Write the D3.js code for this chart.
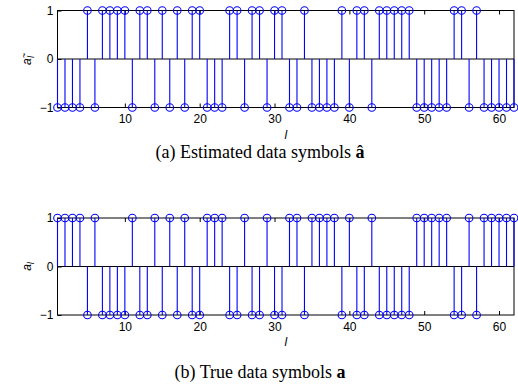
<!DOCTYPE html>
<html>
<head>
<meta charset="utf-8">
<script src="https://cdn.jsdelivr.net/npm/d3@7"></script>
<style>
  body { margin: 0; background: #fff; }
  svg { display: block; }
  .tick text { font-family: "Liberation Sans", Arial, sans-serif; font-size: 12px; fill: #000; }
  .tick line { stroke: #000; }
  .caption { font-family: "Liberation Serif", "Times New Roman", serif; font-size: 18px; fill: #000; }
</style>
</head>
<body>
<svg id="chart" width="518" height="387"></svg>
<script>
// symbol index l = 1..62
const symbolIndex = d3.range(1, 63);

// estimated data symbols (top panel)
const estimatedSymbols = [
  -1, -1, -1, -1,  1, -1,  1,  1,  1,  1,
  -1,  1,  1, -1,  1, -1,  1, -1,  1,  1,
  -1, -1, -1,  1,  1, -1,  1,  1, -1,  1,
   1, -1, -1,  1, -1, -1, -1, -1,  1, -1,
   1,  1, -1,  1,  1,  1,  1,  1, -1, -1,
  -1, -1, -1,  1,  1, -1,  1, -1, -1, -1,
  -1, -1
];

// true data symbols (bottom panel)
const trueSymbols = [
   1,  1,  1,  1, -1,  1, -1, -1, -1, -1,
   1, -1, -1,  1, -1,  1, -1,  1, -1, -1,
   1,  1,  1, -1, -1,  1, -1, -1,  1, -1,
  -1,  1,  1, -1,  1,  1,  1,  1, -1,  1,
  -1, -1,  1, -1, -1, -1, -1, -1,  1,  1,
   1,  1,  1, -1, -1,  1, -1,  1,  1,  1,
   1,  1
];

const xTicks = [10, 20, 30, 40, 50, 60];
const yTicks = [-1, 0, 1];

const svg = d3.select("#chart");
const blue = "#0000ff";

const x = d3.scaleLinear().domain([1, 62]).range([57.5, 514]);

function drawPanel(values, top, bottom, yLabel, caption) {
  const y = d3.scaleLinear().domain([-1, 1]).range([bottom, top]);
  const g = svg.append("g");

  // axes box
  g.append("rect")
    .attr("x", x(1)).attr("y", y(1))
    .attr("width", x(62) - x(1)).attr("height", y(-1) - y(1))
    .attr("fill", "none").attr("stroke", "#000").attr("stroke-width", 1);

  const xb = g.append("g")
    .attr("transform", "translate(0," + y(-1) + ")")
    .call(d3.axisBottom(x).tickValues(xTicks).tickSizeInner(-4).tickSizeOuter(0).tickPadding(7));
  xb.select(".domain").remove();

  const xt = g.append("g")
    .attr("transform", "translate(0," + y(1) + ")")
    .call(d3.axisTop(x).tickValues(xTicks).tickSizeInner(-4).tickSizeOuter(0).tickFormat(""));
  xt.select(".domain").remove();

  const yl = g.append("g")
    .attr("transform", "translate(" + x(1) + ",0)")
    .call(d3.axisLeft(y).tickValues(yTicks).tickFormat(d3.format("d"))
      .tickSizeInner(-4).tickSizeOuter(0).tickPadding(4));
  yl.select(".domain").remove();

  // baseline at zero
  g.append("line")
    .attr("x1", x(1)).attr("x2", x(62))
    .attr("y1", y(0)).attr("y2", y(0))
    .attr("stroke", "#000").attr("stroke-width", 1);

  // stems
  g.selectAll(".stem")
    .data(values)
    .enter()
    .append("line")
    .attr("x1", (d, i) => x(symbolIndex[i]))
    .attr("x2", (d, i) => x(symbolIndex[i]))
    .attr("y1", y(0))
    .attr("y2", d => y(d))
    .attr("stroke", blue).attr("stroke-width", 1.1);

  // markers
  g.selectAll(".mark")
    .data(values)
    .enter()
    .append("circle")
    .attr("cx", (d, i) => x(symbolIndex[i]))
    .attr("cy", d => y(d))
    .attr("r", 3.8)
    .attr("fill", "none")
    .attr("stroke", blue).attr("stroke-width", 1.1);

  // x label
  g.append("text")
    .attr("x", (x(1) + x(62)) / 2).attr("y", bottom + 31)
    .attr("text-anchor", "middle")
    .style("font-family", "Liberation Sans, Arial, sans-serif")
    .style("font-size", "12px").style("font-style", "italic")
    .text("l");

  // y label
  const t = g.append("text")
    .attr("transform", "translate(31," + y(0) + ") rotate(-90)")
    .attr("text-anchor", "middle")
    .style("font-family", "Liberation Sans, Arial, sans-serif")
    .style("font-size", "12px").style("font-style", "italic");
  t.append("tspan").text("a");
  if (yLabel === "tilde") {
    t.append("tspan").attr("dy", -4).style("font-size", "9px").text("~");
    t.append("tspan").attr("dx", -5).attr("dy", 7).style("font-size", "9px").text("l");
  } else {
    t.append("tspan").attr("dy", 3).style("font-size", "9px").text("l");
  }

  // caption
  const c = svg.append("text")
    .attr("class", "caption")
    .attr("x", 260).attr("y", caption.y)
    .attr("text-anchor", "middle");
  c.append("tspan").text(caption.text);
  c.append("tspan").style("font-weight", "bold").text(caption.sym);
}

drawPanel(estimatedSymbols, 10.5, 107.5, "tilde",
  { y: 158, text: "(a) Estimated data symbols ", sym: "\u00e2" });
drawPanel(trueSymbols, 218, 315, "plain",
  { y: 378, text: "(b) True data symbols ", sym: "a" });
</script>
</body>
</html>
